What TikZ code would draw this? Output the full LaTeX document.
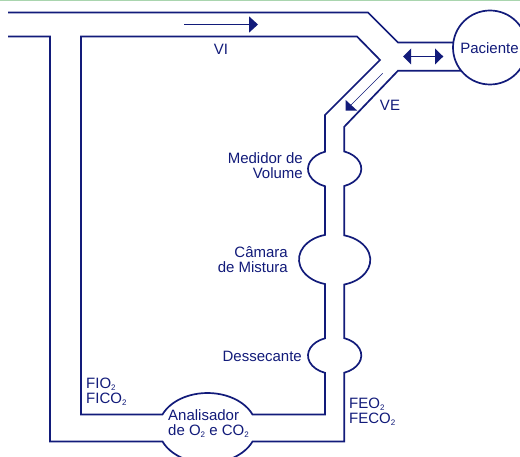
\documentclass[tikz,border=0pt]{standalone}
\usepackage{fontspec}
\setmainfont{Liberation Sans}
\definecolor{navyline}{HTML}{121B7A}
\definecolor{topgreen}{HTML}{A9D5AE}
\newcommand{\subtwo}{\raisebox{-0.25ex}{\fontsize{8}{8}\selectfont 2}}
\tikzset{
  wall/.style={draw=navyline,line width=1.7pt,line join=miter},
  thin arrow/.style={draw=navyline,line width=0.7pt},
  head/.style={fill=navyline,draw=none},
  label/.style={text=navyline,font=\fontsize{15}{15}\selectfont,inner sep=0pt,align=left},
  rlabel/.style={label,align=right,anchor=east},
  llabel/.style={label,anchor=west}
}
\begin{document}
\begin{tikzpicture}[x=1pt,y=-1pt]
\useasboundingbox (0,0) rectangle (520,457);
\clip (0,0) rectangle (520,457);
\fill[white] (0,0) rectangle (520,457);
\fill[topgreen] (0,0) rectangle (520,1.5);
% outer top wall
\draw[wall] (8,12.5) -- (368,12.5) -- (398,42.5) -- (456,42.5);
% inspiratory + analyser inner loop + expiratory inner wall
\draw[wall] (380,60) -- (325,115) -- (325,151.7)
  arc[start angle=249,end angle=111,x radius=26.5,y radius=18.5]
  -- (325,234.9)
  arc[start angle=254.5,end angle=105.5,x radius=35.5,y radius=25.5]
  -- (325,338.3)
  arc[start angle=249,end angle=111,x radius=26.5,y radius=18.5]
  -- (325,414.5) -- (252.5,414.5)
  arc[start angle=337.3,end angle=202.7,x radius=48.8,y radius=35]
  -- (81,414.5) -- (81,36.5) -- (357,36.5) -- cycle;
% outer wall
\draw[wall] (8,36.5) -- (50,36.5) -- (50,441.5) -- (162.5,441.5)
  arc[start angle=157.3,end angle=22.7,x radius=48.8,y radius=35]
  -- (344.3,441.5) -- (344.3,372.7)
  arc[start angle=69,end angle=-69,x radius=26.5,y radius=18.5]
  -- (344.3,284.5)
  arc[start angle=74.5,end angle=-74.5,x radius=35.5,y radius=25.5]
  -- (344.3,186)
  arc[start angle=69,end angle=-69,x radius=26.5,y radius=18.5]
  -- (344.3,126.7) -- (398,70.7) -- (461,70.7);
% patient
\node[circle,draw=navyline,line width=1.7pt,fill=white,minimum size=74pt,inner sep=0pt] (paciente) at (490,47.5) {};
\node[label,anchor=center] (pactext) at (489.5,48) {Paciente};
% arrows
\draw[thin arrow] (184,24.3) -- (250,24.3);
\fill[head] (249,16.3) -- (258,24.5) -- (249,32.7) -- cycle;
\draw[thin arrow] (410,56.5) -- (436,56.5);
\fill[head] (403,56.5) -- (411,48.5) -- (411,64.5) -- cycle;
\fill[head] (443.3,56.5) -- (435,48.5) -- (435,64.5) -- cycle;
\draw[thin arrow] (382.7,73.3) -- (350,106);
\fill[head] (345.7,100) -- (345.7,110.7) -- (357.3,110.7) -- cycle;
% labels
\node[label,anchor=center] (vi) at (221,49.5) {VI};
\node[label,anchor=center] (ve) at (390,105) {VE};
\node[rlabel] (medidor) at (303,165.5) {Medidor de\\Volume};
\node[rlabel] (camara) at (288,259.5) {Câmara\\de Mistura};
\node[rlabel] (dessecante) at (302,356) {Dessecante};
\node[llabel] (fi) at (86,391.5) {FIO\subtwo\\FICO\subtwo};
\node[llabel] (fe) at (349,411.5) {FEO\subtwo\\FECO\subtwo};
\node[llabel] (anal) at (168,424) {Analisador\\de O\subtwo{} e CO\subtwo};
\end{tikzpicture}
\end{document}
